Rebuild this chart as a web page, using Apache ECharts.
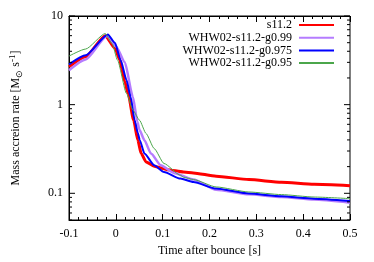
<!DOCTYPE html>
<html><head><meta charset="utf-8">
<script src="https://cdn.jsdelivr.net/npm/echarts@6/dist/echarts.min.js"></script>
<style>html,body{margin:0;padding:0;background:#fff}#c{width:374px;height:262px}</style>
</head><body><div id="c"></div>
<script>
const seriesNames = ['s11.2', 'WHW02-s11.2-g0.99', 'WHW02-s11.2-g0.975', 'WHW02-s11.2-g0.95'];
const xTicks = [-0.1, 0, 0.1, 0.2, 0.3, 0.4, 0.5];
const yTickLabels = [0.1, 1, 10];
const yTickValues = [0.05,0.06,0.07,0.08,0.09,0.1,0.2,0.3,0.4,0.5,0.6,0.7,0.8,0.9,1,2,3,4,5,6,7,8,9,10];

const s112 = [[-0.1,2.67],[-0.0645,3.47],[-0.0226,5.99],[-0.0017,4.31],[0.0087,3.18],[0.0123,2.56],[0.0192,1.81],[0.0261,1.34],[0.038,0.67],[0.047,0.397],[0.0541,0.281],[0.0645,0.226],[0.0819,0.202],[0.1097,0.185],[0.1446,0.174],[0.1655,0.170],[0.2142,0.156],[0.2841,0.143],[0.3537,0.133],[0.4233,0.1265],[0.5,0.122]];
const g099 = [[-0.1,2.45],[-0.0645,3.24],[-0.0191,5.95],[0.001,4.5],[0.0192,3.0],[0.0365,1.22],[0.046,0.64],[0.0505,0.52],[0.061,0.397],[0.075,0.281],[0.0959,0.207],[0.1237,0.170],[0.1655,0.143],[0.2142,0.110],[0.2841,0.0975],[0.3537,0.0908],[0.4233,0.0849],[0.5,0.0785]];
const g0975 = [[-0.1,2.85],[-0.0645,3.6],[-0.017,6.18],[-0.0017,4.95],[0.0102,3.18],[0.0227,1.9],[0.0317,1.22],[0.040,0.67],[0.047,0.48],[0.051,0.40],[0.061,0.281],[0.0819,0.207],[0.1028,0.174],[0.1377,0.1466],[0.1655,0.134],[0.2142,0.113],[0.2841,0.0993],[0.3537,0.0925],[0.4233,0.0871],[0.5,0.0818]];
const g095 = [[-0.1,3.53],[-0.0645,4.24],[-0.0226,6.34],[-0.008,4.9],[0.0035,3.18],[0.0227,1.34],[0.0365,0.867],[0.0505,0.668],[0.0645,0.473],[0.0819,0.320],[0.1028,0.217],[0.1377,0.160],[0.1446,0.152],[0.1655,0.143],[0.2142,0.118],[0.2841,0.1035],[0.3537,0.0967],[0.4233,0.0908],[0.5,0.0871]];

const seriesData = [s112, g099, g0975, g095];
const colors = ['#ff0000', '#b57cff', '#0000ff', '#4ba64b'];
const widths = [3, 2.5, 2, 1];
const FONT = 'Liberation Serif';
const xMin = xTicks[0], xMax = xTicks[xTicks.length - 1];

const chart = echarts.init(document.getElementById('c'), null, {renderer: 'canvas'});
const lineSeries = seriesData.map((d, i) => ({
  name: seriesNames[i], type: 'line', data: d, showSymbol: false, symbol: 'none',
  smooth: 0.2, smoothMonotone: 'x',
  lineStyle: {color: colors[i], width: widths[i]}, itemStyle: {color: colors[i]}, z: 3 + i
}));
const tickSeries = {
  type: 'custom', silent: true, clip: false, z: 10,
  data: yTickValues.map(v => [v]), encode: {y: 0},
  renderItem: (params, api) => {
    const v = api.value(0);
    const major = yTickLabels.indexOf(v) >= 0;
    const len = major ? 6 : 3;
    const pL = api.coord([xMin, v]);
    const pR = api.coord([xMax, v]);
    const st = {stroke: '#000', lineWidth: 1};
    return {type: 'group', children: [
      {type: 'line', shape: {x1: pL[0], y1: pL[1], x2: pL[0] + len, y2: pL[1]}, style: st},
      {type: 'line', shape: {x1: pR[0], y1: pR[1], x2: pR[0] - len, y2: pR[1]}, style: st}
    ]};
  }
};
const xAxisCommon = {
  type: 'value', min: xMin, max: xMax, interval: 0.1,
  axisLine: {show: true, onZero: false, lineStyle: {color: '#000', width: 1}},
  axisTick: {show: true, inside: true, length: 6, lineStyle: {color: '#000'}},
  minorTick: {show: true, splitNumber: 5, length: 3, lineStyle: {color: '#000'}},
  splitLine: {show: false}
};
chart.setOption({
  animation: false,
  textStyle: {fontFamily: FONT},
  grid: {left: 63, right: 24, top: 16, bottom: 42, show: true, borderColor: '#000', borderWidth: 1, containLabel: false},
  legend: {
    right: 39, top: 19, orient: 'vertical', align: 'right', padding: 0,
    itemWidth: 35, itemHeight: 12, itemGap: 0.7,
    itemStyle: {opacity: 0},
    textStyle: {fontFamily: FONT, fontSize: 12, color: '#000', padding: [0, 2, 0, 0]},
    data: seriesNames
  },
  xAxis: [
    Object.assign({}, xAxisCommon, {
      position: 'bottom',
      name: 'Time after bounce [s]', nameLocation: 'middle', nameGap: 24,
      nameTextStyle: {fontFamily: FONT, fontSize: 12, color: '#000'},
      axisLabel: {fontFamily: FONT, fontSize: 12, color: '#000', margin: 8,
        formatter: v => (Math.abs(v) < 1e-9 ? '0' : String(Math.round(v * 10) / 10))}
    }),
    Object.assign({}, xAxisCommon, {position: 'top', axisLabel: {show: false}})
  ],
  yAxis: {
    type: 'log', logBase: 10, min: 0.05, max: 10,
    axisLine: {show: true, onZero: false, lineStyle: {color: '#000'}},
    axisTick: {show: false}, splitLine: {show: false}, minorTick: {show: false},
    axisLabel: {fontFamily: FONT, fontSize: 12, color: '#000', margin: 6,
      formatter: v => {
        for (const t of yTickLabels) if (Math.abs(v - t) / t < 1e-6) return String(t);
        return '';
      }},
    name: 'Mass accreion rate [M{sub|⊙} s{sup|-1}]', nameLocation: 'middle', nameGap: 45, nameRotate: 90,
    nameTextStyle: {fontFamily: FONT, fontSize: 12, color: '#000', lineHeight: 16, padding: [0, 0, 0, 0],
      rich: {
        sub: {fontFamily: FONT, fontSize: 9, color: '#000', verticalAlign: 'bottom', lineHeight: 16},
        sup: {fontFamily: FONT, fontSize: 9, color: '#000', verticalAlign: 'top', lineHeight: 16}
      }}
  },
  series: lineSeries.concat([tickSeries])
});
</script></body></html>
